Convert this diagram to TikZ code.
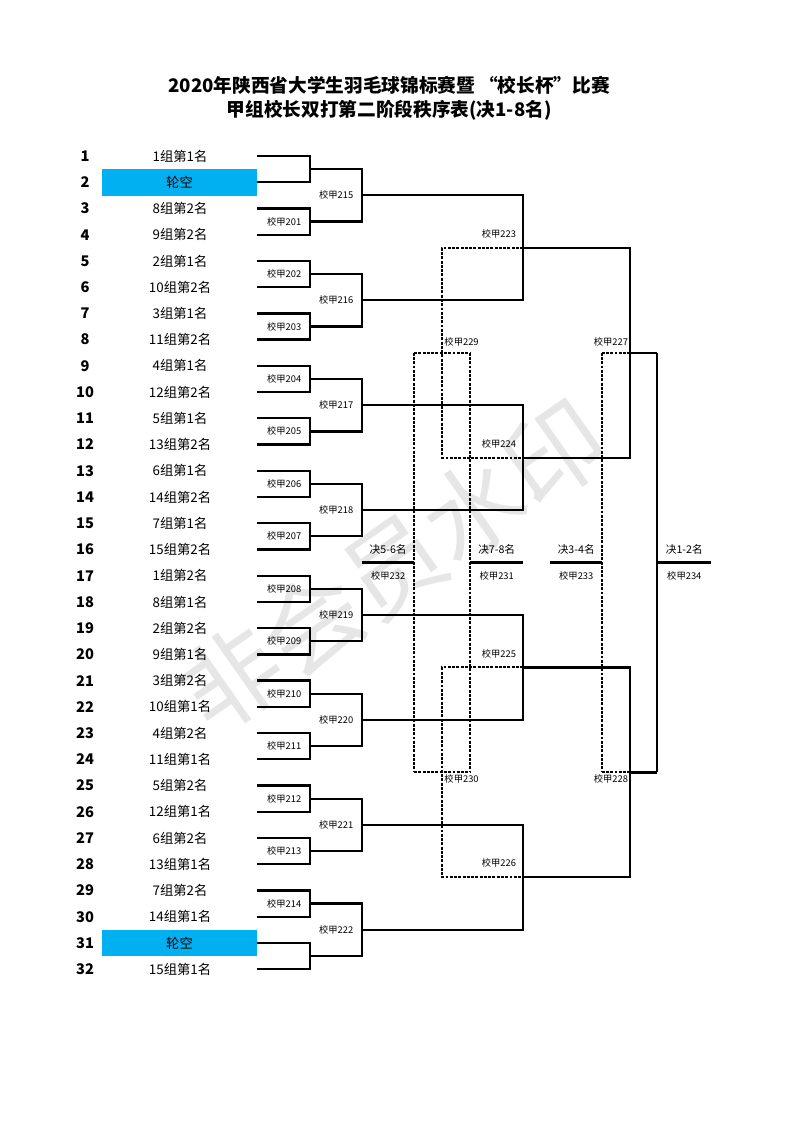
\documentclass[tikz,border=0pt]{standalone}
\usepackage{fontspec}
\setmainfont{Noto Sans CJK SC}
\usetikzlibrary{calc}
\definecolor{byeblue}{HTML}{00B0F0}
\definecolor{wmgray}{HTML}{E6E6E6}
\begin{document}
\begin{tikzpicture}[x=0.7507pt,y=-0.7504pt,
  br/.style={line width=1.7pt},
  ls/.style={line width=1.5pt, dash pattern=on 2.2pt off 1pt},
  num/.style={font=\fontsize{11}{13}\selectfont\bfseries, inner sep=0pt},
  ent/.style={font=\fontsize{10}{12}\selectfont, inner sep=0pt},
  bye/.style={ent, fill=byeblue, minimum width=116.4pt, minimum height=20pt},
  mlab/.style={font=\fontsize{7}{8}\selectfont, inner sep=0pt},
  flab/.style={font=\fontsize{8}{9}\selectfont, inner sep=0pt},
  ttl/.style={font=\fontsize{14}{17}\selectfont\bfseries, inner sep=0pt},
  wmark/.style={text=wmgray, font=\fontsize{74}{74}\selectfont, rotate=35, inner sep=0pt}]
\useasboundingbox (0,0) rectangle (793,1122);
\fill[white] (0,0) rectangle (793,1122);

% watermark
\node[wmark] (wm) at (393,566) {非会员水印};

% title
\node[ttl] (title1) at (389,85) {2020年陕西省大学生羽毛球锦标赛暨 “校长杯”比赛};
\node[ttl] (title2) at (389,110) {甲组校长双打第二阶段秩序表(决1-8名)};

% entries
\foreach \i/\t in {1/1组第1名,3/8组第2名,4/9组第2名,5/2组第1名,6/10组第2名,7/3组第1名,8/11组第2名,
  9/4组第1名,10/12组第2名,11/5组第1名,12/13组第2名,13/6组第1名,14/14组第2名,15/7组第1名,16/15组第2名,
  17/1组第2名,18/8组第1名,19/2组第2名,20/9组第1名,21/3组第2名,22/10组第1名,23/4组第2名,24/11组第1名,
  25/5组第2名,26/12组第1名,27/6组第2名,28/13组第1名,29/7组第2名,30/14组第1名,32/15组第1名}{
  \node[ent] (e\i) at (180,{156+(\i-1)*26.23}) {\t};
}
\foreach \i in {2,31}{
  \node[bye] (e\i) at (179.5,{156+(\i-1)*26.23}) {轮空};
}
\foreach \i in {1,...,32}{
  \node[num] (n\i) at (85,{156+(\i-1)*26.23}) {\i};
}

% level 1 brackets
\foreach \k in {1,...,16}{
  \pgfmathsetmacro\ya{156+(2*\k-2)*26.23}
  \pgfmathsetmacro\yb{156+(2*\k-1)*26.23}
  \pgfmathsetmacro\ym{(\ya+\yb)/2}
  \coordinate (p\k a) at (257,\ya);
  \coordinate (p\k b) at (257,\yb);
  \coordinate (q\k) at (310,\ym);
  \draw[br] (p\k a) -| (q\k) |- (p\k b);
}
\foreach \k/\m in {2/201,3/202,4/203,5/204,6/205,7/206,8/207,9/208,10/209,11/210,12/211,13/212,14/213,15/214}{
  \node[mlab] (m\m) at ($(q\k)+(-26,0)$) {校甲\m};
}

% level 2
\foreach \j in {1,...,8}{
  \pgfmathtruncatemacro\ja{2*\j-1}
  \pgfmathtruncatemacro\jb{2*\j}
  \pgfmathtruncatemacro\m{214+\j}
  \path let \p1=(q\ja), \p2=(q\jb) in coordinate (r\j) at (362*0.7507pt,{(\y1+\y2)/2});
  \draw[br] (q\ja) -| (r\j) |- (q\jb);
  \node[mlab] (m\m) at ($(r\j)+(-26,0)$) {校甲\m};
}

% level 3
\foreach \i in {1,...,4}{
  \pgfmathtruncatemacro\ia{2*\i-1}
  \pgfmathtruncatemacro\ib{2*\i}
  \pgfmathtruncatemacro\m{222+\i}
  \path let \p1=(r\ia), \p2=(r\ib) in coordinate (s\i) at (523*0.7507pt,{(\y1+\y2)/2});
  \draw[br] (r\ia) -| (s\i) |- (r\ib);
  \node[mlab, anchor=east] (m\m) at ($(s\i)+(-7,-14)$) {校甲\m};
}

% level 4 winners (227, 228) and losers (229, 230)
\foreach \i/\w/\l in {1/227/229,2/228/230}{
  \pgfmathtruncatemacro\ia{2*\i-1}
  \pgfmathtruncatemacro\ib{2*\i}
  \path let \p1=(s\ia), \p2=(s\ib) in
    coordinate (t\i) at (630*0.7507pt,{(\y1+\y2)/2})
    coordinate (u\i) at (442*0.7507pt,{(\y1+\y2)/2})
    coordinate (v\i) at (602*0.7507pt,{(\y1+\y2)/2})
    coordinate (f\i) at (657*0.7507pt,{(\y1+\y2)/2})
    coordinate (wl\i) at (414*0.7507pt,{(\y1+\y2)/2})
    coordinate (wr\i) at (470*0.7507pt,{(\y1+\y2)/2});
  \draw[ls] (s\ia) -| (u\i) |- (s\ib);
  \draw[br] (s\ia) -| (t\i) |- (s\ib);
  \draw[ls] (t\i) -- (v\i);
  \draw[br] (t\i) -- (f\i);
  \draw[ls] (wl\i) -- (wr\i);
}
\node[mlab, anchor=east] (m227) at ($(t1)+(-2,-11)$) {校甲227};
\node[mlab, anchor=east] (m228) at ($(t2)+(-2,7)$) {校甲228};
\node[mlab, anchor=west] (m229) at ($(u1)+(2,-11)$) {校甲229};
\node[mlab, anchor=west] (m230) at ($(u2)+(2,7)$) {校甲230};

% vertical connectors to finals
\draw[ls] (wl1) -- (wl2);
\draw[ls] (wr1) -- (wr2);
\draw[ls] (v1) -- (v2);
\draw[br] (f1) -- (f2);

% finals
\path let \p1=(f1), \p2=(f2) in
  coordinate (g232) at (362*0.7507pt,{(\y1+\y2)/2})
  coordinate (h232) at (414*0.7507pt,{(\y1+\y2)/2})
  coordinate (g231) at (470*0.7507pt,{(\y1+\y2)/2})
  coordinate (h231) at (523*0.7507pt,{(\y1+\y2)/2})
  coordinate (g233) at (550*0.7507pt,{(\y1+\y2)/2})
  coordinate (h233) at (602*0.7507pt,{(\y1+\y2)/2})
  coordinate (g234) at (657*0.7507pt,{(\y1+\y2)/2})
  coordinate (h234) at (711*0.7507pt,{(\y1+\y2)/2});
\foreach \m/\t in {232/决5-6名,231/决7-8名,233/决3-4名,234/决1-2名}{
  \draw[br] (g\m) -- (h\m);
  \node[flab] (d\m) at ($(g\m)!0.5!(h\m)+(0,-13.5)$) {\t};
  \node[mlab] (m\m) at ($(g\m)!0.5!(h\m)+(0,13.5)$) {校甲\m};
}
\end{tikzpicture}
\end{document}
